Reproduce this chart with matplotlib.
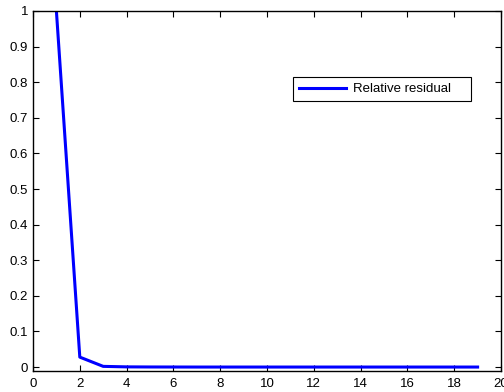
import matplotlib
matplotlib.use("Agg")
import matplotlib.pyplot as plt

plt.rcParams['font.family'] = ['Liberation Sans', 'DejaVu Sans']

# relative residual per iteration
iterations = list(range(1, 20))
residual = [1.0, 0.028, 0.002, 0.0006, 0.0003, 0.0002, 0.0001, 0.0001, 0.0001,
            0.0001, 0.0001, 0.0001, 0.0001, 0.0001, 0.0001, 0.0001, 0.0001,
            0.0001, 0.0001]
x_ticks = list(range(0, 21, 2))
y_ticks = [0, 0.1, 0.2, 0.3, 0.4, 0.5, 0.6, 0.7, 0.8, 0.9, 1]
y_labels = ['0', '0.1', '0.2', '0.3', '0.4', '0.5', '0.6', '0.7', '0.8', '0.9', '1']

fig = plt.figure(figsize=(5.04, 3.92), dpi=100)
ax = fig.add_axes([33 / 504, 1 - 371 / 392, 468 / 504, 360 / 392])

ax.plot(iterations, residual, color='#0000ff', lw=2.2, label='Relative residual    ')

ax.set_xlim(0, 20)
ax.set_ylim(-0.011, 1)
ax.set_xticks(x_ticks)
ax.set_yticks(y_ticks)
ax.set_yticklabels(y_labels)
ax.tick_params(direction='in', top=True, right=True, labelsize=9.5, length=4, width=0.8)
ax.tick_params(axis='x', pad=5)
ax.tick_params(axis='y', pad=3.5)
for sp in ax.spines.values():
    sp.set_linewidth(1)

leg = ax.legend(loc='upper left', bbox_to_anchor=(0.5556, 0.8167), fontsize=9.5,
                fancybox=False, edgecolor='black', framealpha=1,
                handlelength=3.6, handletextpad=0.5, borderpad=0.45,
                borderaxespad=0)
leg.get_frame().set_linewidth(0.8)

fig.savefig('out.png', dpi=100)
